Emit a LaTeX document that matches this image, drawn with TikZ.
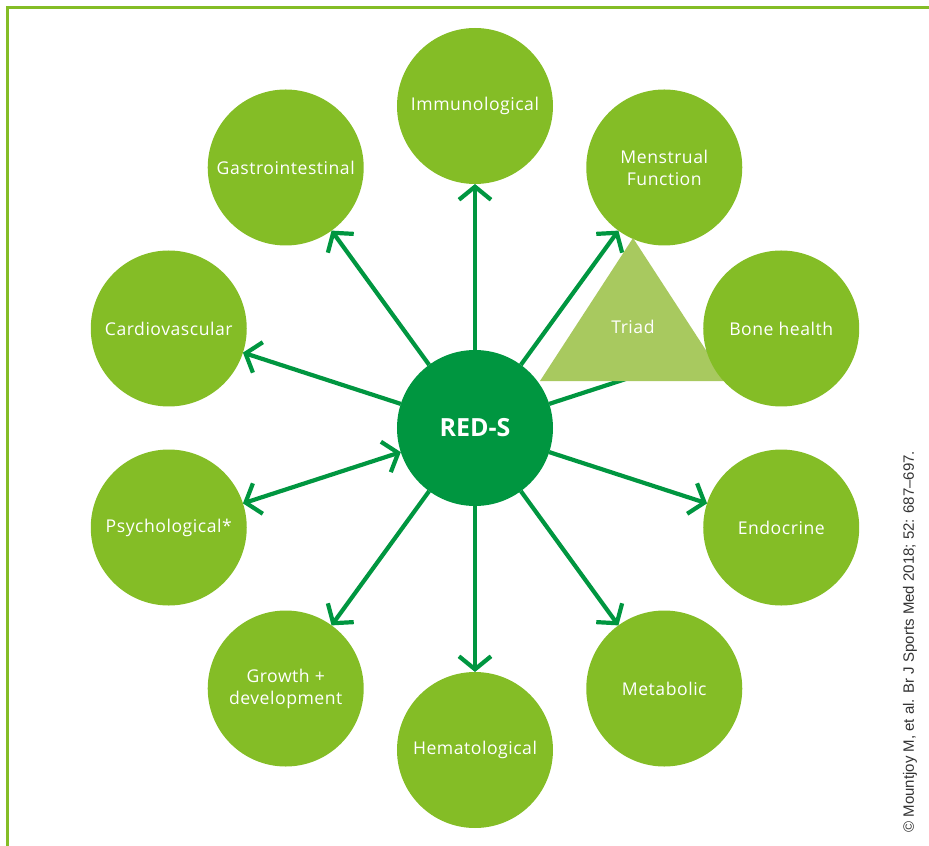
\documentclass[tikz,border=0pt]{standalone}
\usepackage{fontspec}
\setmainfont{Open Sans}
\newfontfamily\labelfont[LetterSpace=3]{Open Sans}
\newfontfamily\citefont{Liberation Sans}
\usetikzlibrary{arrows.meta}
\definecolor{leaf}{HTML}{84BD26}
\definecolor{deepgreen}{HTML}{009640}
\definecolor{triadgreen}{HTML}{A8C95F}
\begin{document}
\begin{tikzpicture}[x=1pt, y=1pt,
			outer/.style = {circle, fill=leaf, text=white, minimum size=156pt, inner sep=0pt, outer sep=0pt, align=center, font=\labelfont\fontsize{17.6}{22}\selectfont},
			core/.style = {circle, fill=deepgreen, text=white, minimum size=156pt, inner sep=0pt, outer sep=0pt, font=\fontsize{25}{30}\selectfont\bfseries},
			link/.style = {draw=deepgreen, line width=4.2pt, -{Straight Barb[length=13pt,width=32pt]}},
			twolink/.style = {link, {Straight Barb[length=13pt,width=32pt]}-{Straight Barb[length=13pt,width=32pt]}}]
			
			\useasboundingbox (-475,-418) rectangle (454,428);
			\draw[leaf, line width=3pt] (-467.5,-418) -- (-467.5,420.5) -- (454,420.5);
			
			\node[core] (reds) at (0,0) {RED-S};
			
			\node[outer] (immu) at (90:322) {Immunological};
			\node[outer] (gastro) at (126:322) {Gastrointestinal};
			\node[outer] (cardio) at (162:322) {Cardiovascular};
			\node[outer] (psych) at (198:322) {Psychological*};
			\node[outer] (growth) at (234:322) {Growth +\\development};
			\node[outer] (hema) at (270:322) {Hematological};
			\node[outer] (meta) at (306:322) {Metabolic};
			\node[outer] (endo) at (342:322) {Endocrine};
			\node[outer] (menst) at (54:322) {Menstrual\\Function};
			
			\draw[link] (reds) -- (immu);
			\draw[link] (reds) -- (gastro);
			\draw[link] (reds) -- (cardio);
			\draw[twolink] (reds) -- (psych);
			\draw[link] (reds) -- (growth);
			\draw[link] (reds) -- (hema);
			\draw[link] (reds) -- (meta);
			\draw[link] (reds) -- (endo);
			\draw[link] (reds) -- (menst);
			\draw[link] (reds) -- (18:322);
			
			\fill[triadgreen] (158,190) -- (65,47) -- (251,47) -- cycle;
			\node[text=white, font=\labelfont\fontsize{17.6}{22}\selectfont] (triad) at (158,101) {Triad};
			
			\node[outer] (bone) at (18:322) {Bone health};
			
			\node[rotate=90, anchor=west, text=black!80, font=\citefont\fontsize{15}{17}\selectfont] (cite) at (435,-408) {© Mountjoy M, et al. Br J Sports Med 2018; 52: 687–697.};
		\end{tikzpicture}
\end{document}
